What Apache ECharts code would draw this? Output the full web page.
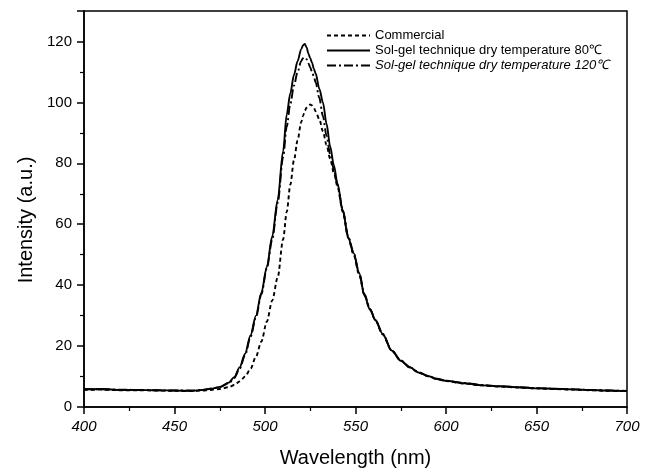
<!DOCTYPE html>
<html>
<head>
<meta charset="utf-8">
<script src="https://cdn.jsdelivr.net/npm/echarts@6/dist/echarts.min.js"></script>
<style>html,body{margin:0;padding:0;background:#fff}#c{width:654px;height:473px}</style>
</head>
<body>
<div id="c"></div>
<script>
var seriesNames = ['Commercial', 'Sol-gel technique dry temperature 80\u2103', 'Sol-gel technique dry temperature 120\u2103'];
var wavelength = [400,410,420,430,440,450,460,465,470,475,480,483,486,489,492,495,498,501,504,507,510,512,514,516,518,520,521,522,523,524,525,526,527,528,530,532,534,536,538,540,543,546,549,552,555,558,561,565,570,575,580,585,590,595,600,610,620,630,640,650,660,670,680,690,700];
var commercial = [5.6,5.7,5.5,5.5,5.4,5.3,5.2,5.4,5.6,5.9,6.5,7.2,8.4,10,12.5,16.5,21.5,28,35,42.5,55,64,73,81,87.5,93.5,95.5,97.3,98.3,99,99.3,99,98.2,97,94.5,90.5,86,81.5,77,72.5,64,55.5,50,43.5,36.5,32,28.5,23.8,18.5,15.2,13,11.2,10.1,9.1,8.5,7.7,7.1,6.7,6.4,6.1,5.9,5.7,5.5,5.3,5.2];
var solgel80 = [5.8,5.9,5.6,5.6,5.5,5.4,5.3,5.6,6.0,6.6,8.0,9.8,13,17.5,23.5,30,37.5,46,56,68,84,96,103,109,113.5,117.5,118.7,119.2,118,116,114.5,113,111,109.5,104.5,100,93,85.5,79.5,73.5,64.5,55.5,50.5,44,36.5,32,28.5,24,18.5,15.2,13,11.3,10.2,9.2,8.6,7.8,7.1,6.8,6.5,6.1,6.0,5.8,5.6,5.4,5.2];
var solgel120 = [5.9,5.8,5.7,5.6,5.5,5.4,5.4,5.6,6.0,6.5,7.8,9.5,12.6,17,23,29.5,37,45.5,55,67,82,92,99.5,105.5,110,113.5,114.5,114.8,114.2,112.8,111.5,110,108.5,106.5,101.5,95.5,89,83,78,73,64.5,56,50.5,44,37,32.2,28.6,24,18.6,15.3,13.1,11.4,10.2,9.3,8.6,7.9,7.2,6.8,6.5,6.2,6.0,5.8,5.6,5.4,5.3];
var xTicks = {min: 400, max: 700, step: 50};
var yTicks = {min: 0, max: 130, step: 20, lastLabel: 120};

function pairs(ys){ return wavelength.map(function(x,i){ return [x, ys[i]]; }); }

var chart = echarts.init(document.getElementById('c'), null, {renderer:'canvas'});
var font = 'Arial, "Liberation Sans", sans-serif';
function mk(name, ys, type){
  return {
    name: name, type: 'line', data: pairs(ys), symbol: 'none', showSymbol: false, smooth: 0.3, smoothMonotone: 'x',
    lineStyle: {color: '#000', width: 1.9, type: type}, itemStyle: {color:'#000', opacity: 0}, animation: false
  };
}
chart.setOption({
  backgroundColor: '#fff',
  animation: false,
  grid: {left: 84, right: 27, top: 11, bottom: 65, show: true, borderColor: '#000', borderWidth: 1.5},
  legend: {
    orient: 'vertical', left: 321, top: 23, itemWidth: 43, itemHeight: 15, itemGap: 0,
    data: seriesNames,
    itemStyle: {opacity: 0},
    textStyle: {fontFamily: font, fontSize: 13, color: '#000', lineHeight: 15,
      rich: {it: {fontStyle: 'italic', fontFamily: font, fontSize: 13, color: '#000', lineHeight: 15}}},
    formatter: function(n){ return n === seriesNames[2] ? '{it|' + n + '}' : n; }
  },
  xAxis: {
    type: 'value', min: xTicks.min, max: xTicks.max, interval: xTicks.step,
    name: 'Wavelength (nm)', nameLocation: 'middle', nameGap: 41,
    nameTextStyle: {fontFamily: font, fontSize: 20, color: '#000'},
    axisLine: {lineStyle: {color: '#000', width: 1.5}},
    axisTick: {length: 7, lineStyle: {color: '#000', width: 1.5}},
    minorTick: {show: true, splitNumber: 2, length: 4, lineStyle: {color: '#000', width: 1.2}},
    axisLabel: {fontFamily: font, fontSize: 15, fontStyle: 'italic', color: '#000', margin: 12},
    splitLine: {show: false}
  },
  yAxis: {
    type: 'value', min: yTicks.min, max: yTicks.max, interval: yTicks.step,
    name: 'Intensity (a.u.)', nameLocation: 'middle', nameGap: 47,
    nameTextStyle: {fontFamily: font, fontSize: 20, color: '#000', padding: [0, 0, 0, -22]},
    axisLine: {show: true, lineStyle: {color: '#000', width: 1.5}},
    axisTick: {show: true, length: 7, lineStyle: {color: '#000', width: 1.5}},
    minorTick: {show: true, splitNumber: 2, length: 4, lineStyle: {color: '#000', width: 1.2}},
    axisLabel: {fontFamily: font, fontSize: 15, color: '#000', margin: 12,
      formatter: function(v){ return v > yTicks.lastLabel ? '' : String(v); }},
    splitLine: {show: false}
  },
  series: [
    mk(seriesNames[0], commercial, [4,3]),
    mk(seriesNames[1], solgel80, 'solid'),
    mk(seriesNames[2], solgel120, [9,3,2,3])
  ]
});
</script>
</body>
</html>
